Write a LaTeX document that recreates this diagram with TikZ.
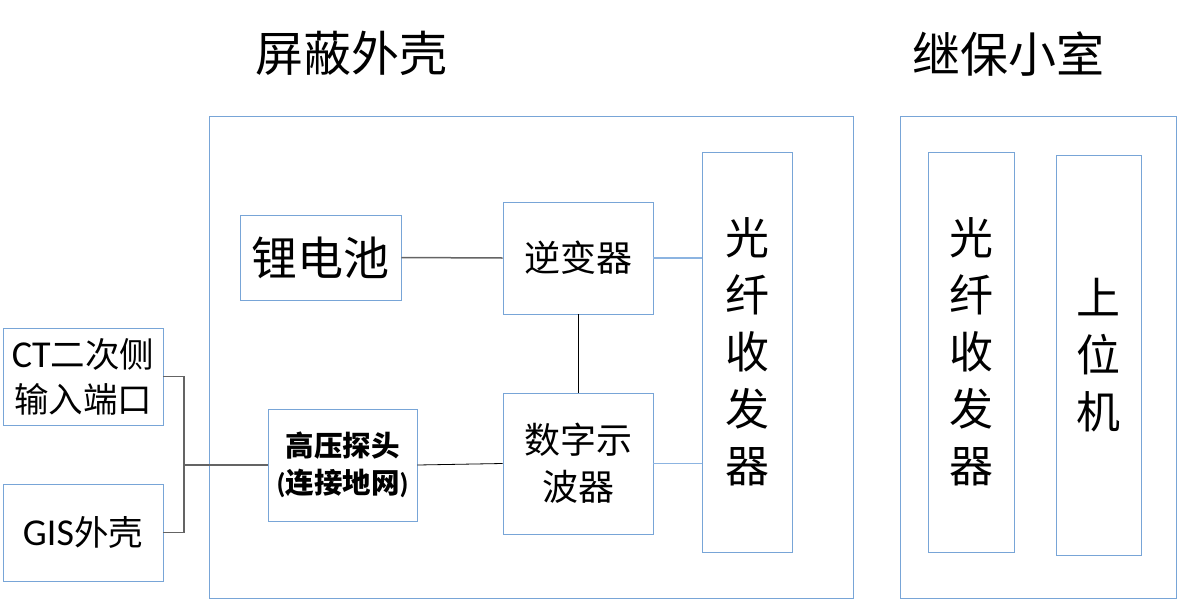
\documentclass[tikz,border=0pt]{standalone}
\usepackage{fontspec}
\newfontfamily\cjk{Noto Sans CJK SC}
\newfontfamily\lat{Carlito}
\definecolor{boxblue}{RGB}{120,165,215}
\definecolor{linegray}{RGB}{100,100,100}
\definecolor{lineblue}{RGB}{140,180,225}
\tikzset{
  box/.style={draw=boxblue, line width=0.9pt, rectangle, inner sep=0pt, align=center, font=\cjk},
  conn/.style={draw=linegray, line width=1.5pt},
  thin/.style={draw=black, line width=0.8pt},
  blueconn/.style={draw=lineblue, line width=1.3pt},
  title/.style={font=\cjk\fontsize{48}{52}\selectfont, inner sep=0pt}
}
\begin{document}
\begin{tikzpicture}[x=1pt,y=-1pt]
\useasboundingbox (0,0) rectangle (1178,600);
% titles
\node[title] (t1) at (351,53) {屏蔽外壳};
\node[title] (t2) at (1008,54) {继保小室};
% containers
\node[box, minimum width=644, minimum height=482] (shield) at (531,357) {};
\node[box, minimum width=276, minimum height=482] (room) at (1038,357) {};
% inner boxes
\node[box, minimum width=90, minimum height=400, font=\cjk\fontsize{44}{57}\selectfont] (fo1) at (747,352) {光\\纤\\收\\发\\器};
\node[box, minimum width=86, minimum height=400, font=\cjk\fontsize{44}{57}\selectfont] (fo2) at (971,352) {光\\纤\\收\\发\\器};
\node[box, minimum width=85, minimum height=400, font=\cjk\fontsize{44}{57}\selectfont] (upc) at (1098.5,355) {上\\位\\机};
\node[box, minimum width=161, minimum height=85, font=\cjk\fontsize{46}{50}\selectfont] (bat) at (320.5,257.5) {锂电池};
\node[box, minimum width=150, minimum height=112, font=\cjk\fontsize{36}{40}\selectfont] (inv) at (578,258) {逆变器};
\node[box, minimum width=150, minimum height=141, font=\cjk\fontsize{36}{47}\selectfont] (osc) at (578,463.5) {数字示\\波器};
\node[box, minimum width=149, minimum height=112, font=\cjk\bfseries\fontsize{28.5}{37}\selectfont] (hv) at (342.5,465) {高压探头\\{\lat(}连接地网{\lat)}};
\node[box, minimum width=160, minimum height=97, font=\cjk\fontsize{34.5}{45}\selectfont] (ct) at (83,376.5) {{\lat\fontsize{38}{45}\selectfont CT}二次侧\\输入端口};
\node[box, minimum width=160, minimum height=97, font=\cjk\fontsize{34.5}{45}\selectfont] (gis) at (83,532.5) {{\lat\fontsize{38}{45}\selectfont GIS}外壳};
% connectors
\coordinate (j) at (184,465);
\draw[conn] (ct.east) -| (j) |- (gis.east);
\draw[conn] (j) -- (hv.west);
\draw[thin] (hv.east) -- (osc.west);
\draw[conn] (bat.east) -- (inv.west);
\draw[thin] (inv.south) -- (osc.north);
\draw[blueconn] (inv.east) -- (inv.east -| fo1.west);
\draw[blueconn] (osc.east) -- (osc.east -| fo1.west);
\end{tikzpicture}
\end{document}
